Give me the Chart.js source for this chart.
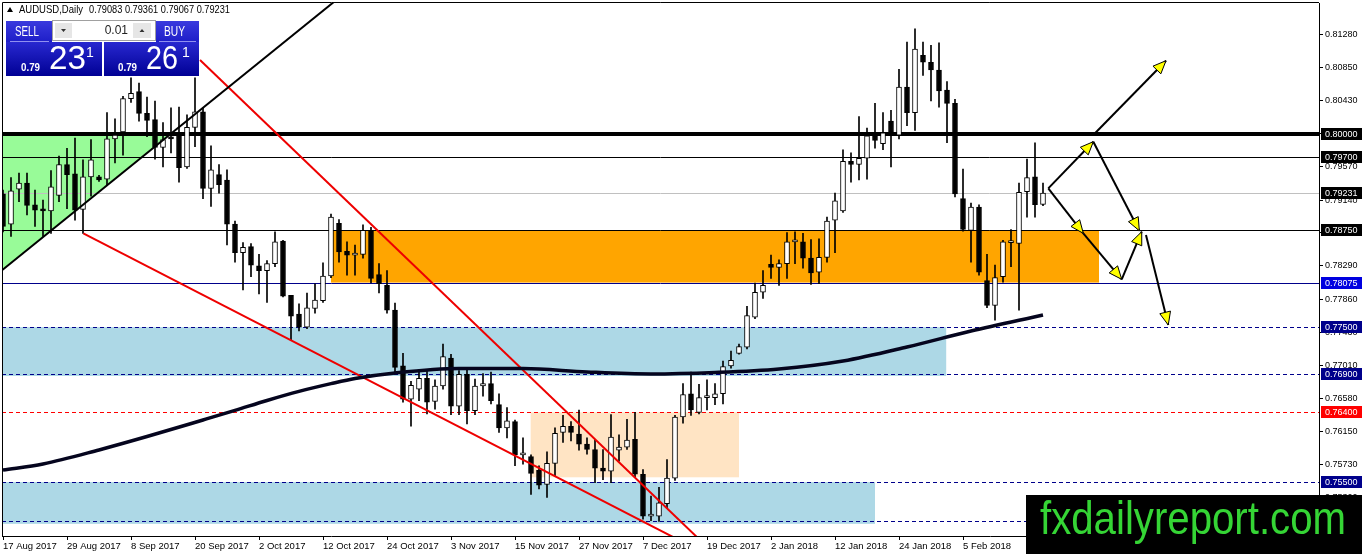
<!DOCTYPE html>
<html>
<head>
<meta charset="utf-8">
<title>AUDUSD Daily</title>
<script src="https://cdn.jsdelivr.net/npm/chart.js@4.4.0/dist/chart.umd.min.js"></script>
<style>
  html, body { margin: 0; padding: 0; background: #fff; }
  #wrap { position: relative; width: 1362px; height: 554px; }
</style>
</head>
<body>
<div id="wrap"><canvas id="fxChart" width="1362" height="554"></canvas></div>
<script>
// date labels on the time axis, one every 8 daily bars
const dateLabels = ['17 Aug 2017', '29 Aug 2017', '8 Sep 2017', '20 Sep 2017', '2 Oct 2017', '12 Oct 2017',
  '24 Oct 2017', '3 Nov 2017', '15 Nov 2017', '27 Nov 2017', '7 Dec 2017', '19 Dec 2017',
  '2 Jan 2018', '12 Jan 2018', '24 Jan 2018', '5 Feb 2018'];

// price scale tick labels
const priceTicks = [0.81280, 0.80850, 0.80430, 0.80000, 0.79570, 0.79140, 0.78720, 0.78290,
  0.77860, 0.77430, 0.77010, 0.76580, 0.76150, 0.75730, 0.75300];

// daily OHLC, bar 0 = 17 Aug 2017
const opens = [
  0.7922, 0.7883, 0.7928, 0.7936, 0.7908, 0.7901, 0.7900, 0.7920, 0.7960, 0.7948,
  0.7902, 0.7944, 0.7944, 0.7941, 0.7993, 0.8002, 0.8045, 0.8054, 0.8026, 0.8018,
  0.7982, 0.7995, 0.8000, 0.7957, 0.8008, 0.8028, 0.7929, 0.7947, 0.7940, 0.7883,
  0.7846, 0.7854, 0.7829, 0.7823, 0.7832, 0.7861, 0.7791, 0.7767, 0.7750, 0.7774,
  0.7784, 0.7816, 0.7884, 0.7848, 0.7843, 0.7844, 0.7875, 0.7818, 0.7804, 0.7772,
  0.7700, 0.7657, 0.7670, 0.7684, 0.7654, 0.7674, 0.7710, 0.7648, 0.7689, 0.7642,
  0.7674, 0.7677, 0.7650, 0.7620, 0.7628, 0.7585, 0.7583, 0.7565, 0.7547, 0.7574,
  0.7614, 0.7622, 0.7612, 0.7599, 0.7592, 0.7568, 0.7564, 0.7591, 0.7595, 0.7605,
  0.7560, 0.7506, 0.7506, 0.7522, 0.7555, 0.7634, 0.7664, 0.7640, 0.7659, 0.7659,
  0.7664, 0.7700, 0.7716, 0.7724, 0.7763, 0.7795, 0.7831, 0.7827, 0.7832, 0.7860,
  0.7860, 0.7839, 0.7821, 0.7840, 0.7888, 0.7900, 0.7964, 0.7960, 0.7968, 0.7997,
  0.7987, 0.8016, 0.7998, 0.8060, 0.8027, 0.8101, 0.8092, 0.8082, 0.8056, 0.8039,
  0.7916, 0.7875, 0.7905, 0.7810, 0.7778, 0.7815, 0.7859, 0.7858, 0.7925, 0.7944,
  0.79083];
const highs = [
  0.7927, 0.7943, 0.7949, 0.7949, 0.7927, 0.7914, 0.7952, 0.7971, 0.7981, 0.7994,
  0.7966, 0.7992, 0.7946, 0.8027, 0.8019, 0.8048, 0.8072, 0.8065, 0.8047, 0.8042,
  0.8014, 0.8033, 0.8034, 0.8024, 0.8072, 0.8033, 0.7984, 0.7960, 0.7953, 0.7887,
  0.7859, 0.7858, 0.7844, 0.7836, 0.7873, 0.7862, 0.7791, 0.7780, 0.7794, 0.7806,
  0.7833, 0.7896, 0.7889, 0.7860, 0.7856, 0.7882, 0.7879, 0.7832, 0.7823, 0.7781,
  0.7716, 0.7680, 0.7695, 0.7695, 0.7682, 0.7728, 0.7715, 0.7694, 0.7695, 0.7683,
  0.7690, 0.7692, 0.7664, 0.7646, 0.7630, 0.7607, 0.7585, 0.7571, 0.7589, 0.7620,
  0.7636, 0.7628, 0.7643, 0.7607, 0.7605, 0.7592, 0.7637, 0.7611, 0.7631, 0.7640,
  0.7566, 0.7532, 0.7543, 0.7579, 0.7636, 0.7677, 0.7692, 0.7676, 0.7682, 0.7677,
  0.7706, 0.7719, 0.7728, 0.7777, 0.7807, 0.7823, 0.7843, 0.7837, 0.7872, 0.7873,
  0.7871, 0.7863, 0.7864, 0.7892, 0.7923, 0.7979, 0.7975, 0.8022, 0.8007, 0.8039,
  0.8027, 0.8030, 0.8083, 0.8118, 0.8135, 0.8118, 0.8114, 0.8117, 0.8067, 0.8044,
  0.7954, 0.7910, 0.7908, 0.7844, 0.7830, 0.7862, 0.7876, 0.7936, 0.7967, 0.7988,
  0.79361];
const lows = [
  0.7873, 0.7867, 0.7912, 0.7895, 0.7880, 0.7867, 0.7871, 0.7912, 0.7903, 0.7888,
  0.7871, 0.7919, 0.7938, 0.7934, 0.7962, 0.7972, 0.8040, 0.8016, 0.7996, 0.7967,
  0.7957, 0.7975, 0.7937, 0.7955, 0.7983, 0.7916, 0.7906, 0.7923, 0.7856, 0.7834,
  0.7798, 0.7815, 0.7793, 0.7782, 0.7828, 0.7789, 0.7733, 0.7745, 0.7748, 0.7768,
  0.7782, 0.7814, 0.7834, 0.7817, 0.7817, 0.7839, 0.7807, 0.7794, 0.7768, 0.7692,
  0.7653, 0.7622, 0.7655, 0.7638, 0.7644, 0.7670, 0.7637, 0.7637, 0.7625, 0.7637,
  0.7661, 0.7651, 0.7614, 0.7607, 0.7571, 0.7573, 0.7534, 0.7541, 0.7530, 0.7558,
  0.7601, 0.7603, 0.7591, 0.7586, 0.7549, 0.7553, 0.7549, 0.7577, 0.7592, 0.7556,
  0.7502, 0.7500, 0.7499, 0.7517, 0.7552, 0.7626, 0.7636, 0.7638, 0.7643, 0.7650,
  0.7651, 0.7697, 0.7715, 0.7722, 0.7761, 0.7787, 0.7813, 0.7804, 0.7813, 0.7832,
  0.7826, 0.7805, 0.7806, 0.7834, 0.7846, 0.7898, 0.7937, 0.7940, 0.7941, 0.7981,
  0.7979, 0.7957, 0.7993, 0.8010, 0.8004, 0.8075, 0.8042, 0.8034, 0.7988, 0.7918,
  0.7874, 0.7834, 0.7817, 0.7775, 0.7759, 0.7808, 0.7828, 0.7772, 0.7892, 0.7892,
  0.79067];
const closes = [
  0.7880, 0.7926, 0.7936, 0.7907, 0.7901, 0.7900, 0.7931, 0.7960, 0.7947, 0.7901,
  0.7944, 0.7966, 0.7940, 0.7993, 0.7998, 0.8045, 0.8052, 0.8026, 0.8017, 0.7982,
  0.7992, 0.7993, 0.7956, 0.8008, 0.8028, 0.7929, 0.7953, 0.7934, 0.7883, 0.7846,
  0.7853, 0.7830, 0.7823, 0.7832, 0.7860, 0.7790, 0.7764, 0.7750, 0.7775, 0.7785,
  0.7816, 0.7892, 0.7847, 0.7843, 0.7844, 0.7875, 0.7813, 0.7806, 0.7772, 0.7698,
  0.7657, 0.7675, 0.7684, 0.7653, 0.7674, 0.7712, 0.7648, 0.7689, 0.7642, 0.7674,
  0.7677, 0.7655, 0.7620, 0.7629, 0.7585, 0.7586, 0.7561, 0.7546, 0.7574, 0.7613,
  0.7622, 0.7614, 0.7599, 0.7592, 0.7568, 0.7564, 0.7608, 0.7595, 0.7604, 0.7560,
  0.7506, 0.7507, 0.7523, 0.7555, 0.7634, 0.7663, 0.7643, 0.7659, 0.7660, 0.7664,
  0.7699, 0.7707, 0.7725, 0.7765, 0.7795, 0.7804, 0.7827, 0.7832, 0.7860, 0.7861,
  0.7839, 0.7820, 0.7840, 0.7887, 0.7913, 0.7964, 0.7960, 0.7968, 0.7997, 0.7991,
  0.8001, 0.8001, 0.8060, 0.8027, 0.8109, 0.8092, 0.8082, 0.8055, 0.8039, 0.7922,
  0.7876, 0.7905, 0.7821, 0.7778, 0.7814, 0.7860, 0.7860, 0.7924, 0.7943, 0.7908,
  0.79231];

// moving average, read at a few bars
const maBars = [0, 5, 12, 18, 25, 29, 33, 37, 41, 44, 49, 57, 65, 73, 81, 89, 97, 105, 113, 121, 130];
const maValues = [0.75655, 0.75733, 0.75914, 0.76087, 0.76301, 0.76425, 0.76553, 0.76670, 0.76770, 0.76837,
  0.76908, 0.76966, 0.76966, 0.76921, 0.76895, 0.76914, 0.76959, 0.77062, 0.77243, 0.77450, 0.77657];

// horizontal levels marked on the price axis
const levelValues = [0.80000, 0.79700, 0.79231, 0.78750, 0.78075, 0.77500, 0.76900, 0.76400, 0.75500, 0.75000];

// zones: [fromBar, toBar] and [lowPrice, highPrice]
const zoneBars = [[-0.2, 117.9], [-0.2, 109], [65.96, 92], [41, 137]];
const zonePrices = [[0.76869, 0.77500], [0.74960, 0.75500], [0.75561, 0.76400], [0.78075, 0.78750]];

// green triangle corners
const triBars = [-0.2, 20.6, -0.2];
const triPrices = [0.79970, 0.79970, 0.78227];

// trend lines: [bar1, price1, bar2, price2]
const trendLines = [
  [-0.2, 0.78227, 42, 0.81752],
  [24.625, 0.80949, 87.125, 0.74751],
  [10.04, 0.78711, 87.1, 0.74612]
];

// projection arrows: [bar1, price1, bar2, price2]
const arrowSegs = [
  [130.66, 0.79292, 136.29, 0.79894],
  [136.5, 0.80003, 145.375, 0.80940],
  [136.29, 0.79894, 142.04, 0.78745],
  [130.66, 0.79292, 135.04, 0.78711],
  [135.04, 0.78711, 139.84, 0.78117],
  [139.84, 0.78117, 142.34, 0.78732],
  [142.875, 0.78689, 145.66, 0.77527]
];

// styles kept apart from the values
const zoneColors = ['#add8e6', '#add8e6', '#ffe4c4', '#ffa500'];
const trendColors = ['#000000', '#ee0000', '#ee0000'];
const levelStyles = [
  { color: '#000000', width: 4, dash: [], box: '#000000' },
  { color: '#000000', width: 1, dash: [], box: '#000000' },
  { color: '#c0c0c0', width: 1, dash: [], box: '#000000' },
  { color: '#000000', width: 1, dash: [], box: '#000000' },
  { color: '#00008b', width: 1, dash: [], box: '#0000e0' },
  { color: '#00008b', width: 1, dash: [4, 3], box: '#00008b' },
  { color: '#00008b', width: 1, dash: [4, 3], box: '#00008b' },
  { color: '#ff0000', width: 1, dash: [4, 3], box: '#ff0000' },
  { color: '#00008b', width: 1, dash: [4, 3], box: '#00008b' },
  { color: '#00008b', width: 1, dash: [4, 3], box: '#00008b' }
];

const FONT = '"Liberation Sans", Arial, sans-serif';
Chart.defaults.font.family = FONT;

// draw text squeezed to a given width (MT4 uses a narrow font)
function fitText(ctx, text, x, y, width) {
  const w = ctx.measureText(text).width;
  ctx.save();
  ctx.translate(x, y);
  ctx.scale(width / w, 1);
  ctx.fillText(text, 0, 0);
  ctx.restore();
}

function drawArrowHead(ctx, x0, y0, x1, y1) {
  const ang = Math.atan2(y1 - y0, x1 - x0);
  const len = 13, half = 5.5;
  const bx = x1 - len * Math.cos(ang), by = y1 - len * Math.sin(ang);
  ctx.beginPath();
  ctx.moveTo(x1, y1);
  ctx.lineTo(bx + half * Math.sin(ang), by - half * Math.cos(ang));
  ctx.lineTo(bx - half * Math.sin(ang), by + half * Math.cos(ang));
  ctx.closePath();
  ctx.fillStyle = '#ffff00';
  ctx.fill();
  ctx.strokeStyle = '#000';
  ctx.lineWidth = 1;
  ctx.setLineDash([]);
  ctx.stroke();
}

function drawPanel(ctx) {
  ctx.save();
  const gh = ctx.createLinearGradient(0, 21, 0, 42);
  gh.addColorStop(0, '#3a3ade');
  gh.addColorStop(1, '#1e1ec8');
  const gb = ctx.createLinearGradient(0, 42, 0, 76);
  gb.addColorStop(0, '#2828d0');
  gb.addColorStop(1, '#000094');
  ctx.fillStyle = gh;
  ctx.fillRect(6, 21, 46, 21);
  ctx.fillRect(156, 21, 43, 21);
  ctx.fillStyle = gb;
  ctx.fillRect(6, 42, 96, 34);
  ctx.fillRect(104, 42, 95, 34);
  ctx.strokeStyle = '#9090f0';
  ctx.lineWidth = 1;
  ctx.beginPath();
  ctx.moveTo(10, 41.5); ctx.lineTo(49, 41.5);
  ctx.moveTo(159, 41.5); ctx.lineTo(196, 41.5);
  ctx.stroke();

  // lot size spinner
  ctx.fillStyle = '#ffffff';
  ctx.fillRect(52, 20, 104, 21);
  ctx.strokeStyle = '#a0a0a0';
  ctx.strokeRect(52.5, 20.5, 103, 20);
  ctx.fillStyle = '#e6e6e6';
  ctx.fillRect(55, 23, 17, 15);
  ctx.fillRect(133, 23, 18, 15);
  ctx.fillStyle = '#333';
  ctx.beginPath();
  ctx.moveTo(61, 29); ctx.lineTo(66, 29); ctx.lineTo(63.5, 32); ctx.closePath();
  ctx.moveTo(139.5, 32); ctx.lineTo(144.5, 32); ctx.lineTo(142, 29); ctx.closePath();
  ctx.fill();
  ctx.fillStyle = '#222';
  ctx.font = '12px ' + FONT;
  ctx.textAlign = 'right';
  ctx.textBaseline = 'middle';
  ctx.fillText('0.01', 128, 31);

  ctx.fillStyle = '#ffffff';
  ctx.textAlign = 'left';
  ctx.textBaseline = 'alphabetic';
  ctx.font = '15px ' + FONT;
  fitText(ctx, 'SELL', 15, 36, 24);
  fitText(ctx, 'BUY', 164, 36, 21);
  ctx.font = 'bold 11px ' + FONT;
  fitText(ctx, '0.79', 21, 71, 19);
  fitText(ctx, '0.79', 118, 71, 19);
  ctx.font = '34px ' + FONT;
  fitText(ctx, '23', 49, 69, 37);
  fitText(ctx, '26', 146, 69, 32);
  ctx.font = '14px ' + FONT;
  ctx.fillText('1', 86, 57);
  ctx.fillText('1', 182, 57);
  ctx.restore();
}

const overlay = {
  id: 'overlay',
  beforeDatasetsDraw(chart) {
    const { ctx, chartArea: a, scales: { x, y } } = chart;
    ctx.save();
    ctx.beginPath();
    ctx.rect(a.left, a.top, a.right - a.left, a.bottom - a.top);
    ctx.clip();
    zoneBars.forEach((b, i) => {
      const x0 = x.getPixelForValue(b[0]);
      const x1 = x.getPixelForValue(b[1]);
      const y0 = y.getPixelForValue(zonePrices[i][1]);
      const y1 = y.getPixelForValue(zonePrices[i][0]);
      ctx.fillStyle = zoneColors[i];
      ctx.fillRect(x0, y0, x1 - x0, y1 - y0);
    });
    ctx.beginPath();
    triBars.forEach((b, i) => {
      const X = x.getPixelForValue(b), Y = y.getPixelForValue(triPrices[i]);
      if (i === 0) ctx.moveTo(X, Y); else ctx.lineTo(X, Y);
    });
    ctx.closePath();
    ctx.fillStyle = '#98fb98';
    ctx.fill();
    levelValues.forEach((v, i) => {
      const s = levelStyles[i];
      const Y = Math.round(y.getPixelForValue(v)) + (s.width % 2 ? 0.5 : 0);
      ctx.strokeStyle = s.color;
      ctx.lineWidth = s.width;
      ctx.setLineDash(s.dash);
      ctx.beginPath();
      ctx.moveTo(a.left, Y);
      ctx.lineTo(a.right, Y);
      ctx.stroke();
    });
    ctx.restore();
  },
  afterDatasetsDraw(chart) {
    const { ctx, scales: { x, y } } = chart;
    ctx.save();
    arrowSegs.forEach(s => {
      drawArrowHead(ctx, x.getPixelForValue(s[0]), y.getPixelForValue(s[1]),
        x.getPixelForValue(s[2]), y.getPixelForValue(s[3]));
    });
    ctx.restore();
  },
  afterDraw(chart) {
    const { ctx, chartArea: a, scales: { y } } = chart;
    ctx.save();
    // frame
    ctx.strokeStyle = '#000';
    ctx.lineWidth = 1;
    ctx.beginPath();
    ctx.moveTo(a.left + 0.5, a.bottom);
    ctx.lineTo(a.left + 0.5, a.top - 0.5);
    ctx.lineTo(a.right, a.top - 0.5);
    ctx.stroke();

    // level labels on the price axis
    ctx.font = '9px ' + FONT;
    ctx.textAlign = 'left';
    ctx.textBaseline = 'middle';
    levelValues.forEach((v, i) => {
      const Y = Math.round(y.getPixelForValue(v));
      ctx.fillStyle = levelStyles[i].box;
      ctx.fillRect(a.right + 2, Y - 6, 41, 12);
      ctx.fillStyle = '#ffffff';
      ctx.fillText(v.toFixed(5), a.right + 6, Y + 0.5);
    });

    // symbol line
    ctx.fillStyle = '#000';
    ctx.beginPath();
    ctx.moveTo(7, 12); ctx.lineTo(13, 12); ctx.lineTo(10, 7); ctx.closePath();
    ctx.fill();
    ctx.font = '10.5px ' + FONT;
    ctx.textBaseline = 'middle';
    fitText(ctx, 'AUDUSD,Daily', 19, 10, 64);
    fitText(ctx, '0.79083 0.79361 0.79067 0.79231', 89, 10, 141);

    drawPanel(ctx);

    // watermark
    ctx.fillStyle = '#000';
    ctx.fillRect(1026, 495, 336, 59);
    ctx.fillStyle = '#35d535';
    ctx.font = '46px ' + FONT;
    ctx.textBaseline = 'alphabetic';
    fitText(ctx, 'fxdailyreport.com', 1040, 534, 306);
    ctx.restore();
  }
};

const bodies = opens.map((o, i) => ({ x: i, y: [o, closes[i]] }));
const wicks = lows.map((l, i) => ({ x: i, y: [l, highs[i]] }));
const bodyColors = opens.map((o, i) => (closes[i] >= o ? '#ffffff' : '#000000'));

const lineDatasets = trendLines.map((t, i) => ({
  type: 'line',
  data: [{ x: t[0], y: t[1] }, { x: t[2], y: t[3] }],
  borderColor: trendColors[i],
  borderWidth: 2,
  pointRadius: 0,
  fill: false,
  order: -1
}));
const arrowDatasets = arrowSegs.map(s => ({
  type: 'line',
  data: [{ x: s[0], y: s[1] }, { x: s[2], y: s[3] }],
  borderColor: '#000000',
  borderWidth: 2,
  pointRadius: 0,
  fill: false,
  clip: false,
  order: -1
}));

new Chart(document.getElementById('fxChart'), {
  type: 'bar',
  data: {
    datasets: [
      {
        data: bodies,
        backgroundColor: bodyColors,
        borderColor: '#000000',
        borderWidth: 1,
        borderSkipped: false,
        barThickness: 5,
        minBarLength: 2,
        grouped: false,
        order: 0
      },
      {
        data: wicks,
        backgroundColor: '#000000',
        borderWidth: 0,
        barThickness: 1,
        grouped: false,
        order: 1
      },
      {
        type: 'line',
        data: maBars.map((b, i) => ({ x: b, y: maValues[i] })),
        borderColor: '#05051e',
        borderWidth: 3.5,
        cubicInterpolationMode: 'monotone',
        pointRadius: 0,
        fill: false,
        order: -1
      },
      ...lineDatasets,
      ...arrowDatasets
    ]
  },
  options: {
    responsive: false,
    devicePixelRatio: 1,
    animation: false,
    layout: { padding: { left: 2, top: 3, right: 0, bottom: 0 } },
    plugins: { legend: { display: false }, tooltip: { enabled: false } },
    scales: {
      x: {
        type: 'linear',
        min: -0.125,
        max: 164.5,
        offset: false,
        position: 'bottom',
        grid: { offset: false, drawOnChartArea: false, drawTicks: true, tickLength: 4, color: '#000' },
        border: { display: true, color: '#000' },
        ticks: {
          autoSkip: false,
          maxRotation: 0,
          align: 'start',
          padding: 1,
          color: '#000',
          font: { size: 9.5 },
          callback: v => dateLabels[v / 8] || ''
        },
        afterBuildTicks: s => { s.ticks = dateLabels.map((d, i) => ({ value: i * 8 })); },
        afterFit: s => { s.height = 18; s.paddingLeft = 0; s.paddingRight = 0; }
      },
      y: {
        type: 'linear',
        position: 'right',
        min: 0.74803,
        max: 0.81685,
        bounds: 'data',
        grid: { drawOnChartArea: false, drawTicks: true, tickLength: 4, color: '#000' },
        border: { display: true, color: '#000' },
        ticks: {
          autoSkip: false,
          padding: 2,
          color: '#000',
          font: { size: 9 },
          callback: v => Number(v).toFixed(5)
        },
        afterBuildTicks: s => { s.ticks = priceTicks.map(v => ({ value: v })); },
        afterFit: s => { s.width = 43; s.paddingTop = 0; s.paddingBottom = 0; }
      }
    }
  },
  plugins: [overlay]
});
</script>
</body>
</html>
